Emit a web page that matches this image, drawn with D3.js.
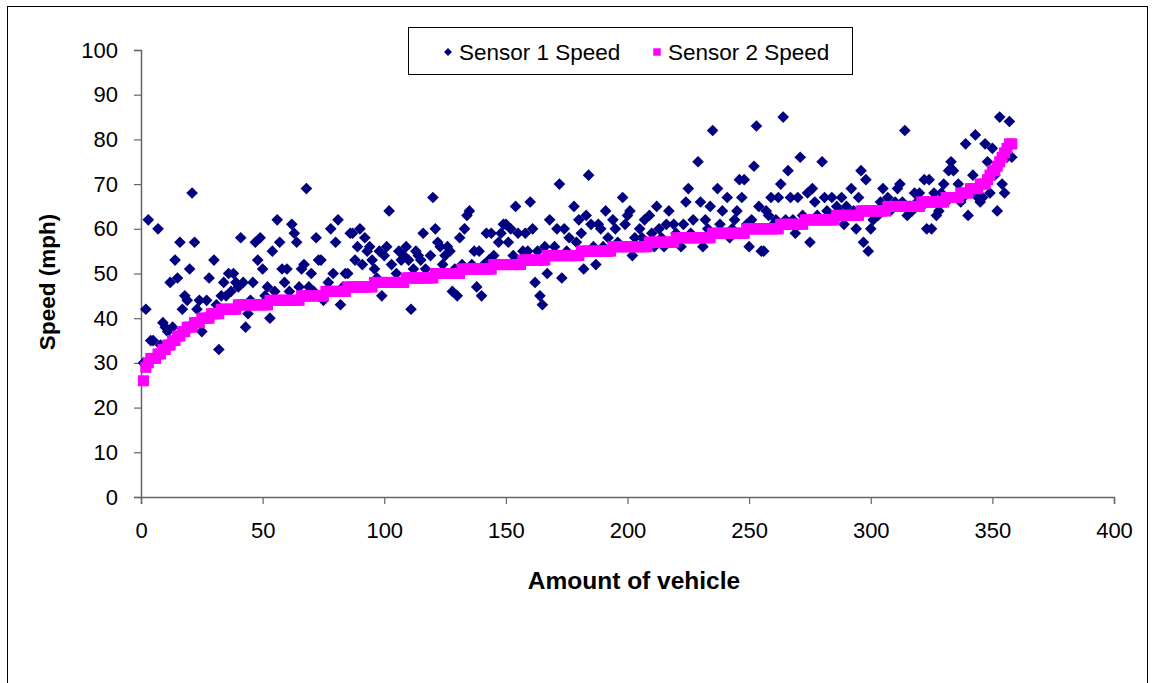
<!DOCTYPE html>
<html><head><meta charset="utf-8">
<script src="https://cdn.jsdelivr.net/npm/d3@7"></script>
<style>html,body{margin:0;padding:0;background:#fff;}svg{display:block;}</style>
</head><body>
<svg id="chart" width="1153" height="683"></svg>
<script>
// Sensor 1 speed for each vehicle (vehicles sorted by Sensor 2 speed)
const sensor1 = [
30,42,62,35,35,31,60,34,39,38,
37,48,38,53,49,57,42,45,44,51,
68,57,42,44,37,40,44,49,41,53,
43,33,45,48,45,50,46,50,48,47,
58,48,38,41,44,48,57,53,58,51,
45,47,40,55,46,62,57,51,48,51,
46,61,59,57,47,51,52,69,47,50,
46,58,53,53,44,46,48,60,50,57,
62,43,47,50,50,59,59,53,56,60,
52,58,55,56,53,51,49,55,45,54,
56,64,52,48,50,55,53,54,56,53,
42,51,55,54,53,59,51,49,54,67,
60,57,56,52,54,56,55,46,51,45,
58,52,60,63,64,52,55,47,55,45,
52,59,53,59,54,52,57,59,61,61,
57,60,54,65,59,53,55,59,55,66,
60,48,55,45,43,56,50,62,54,56,
60,70,49,60,55,58,54,65,57,62,
59,51,63,72,61,56,52,61,60,56,
64,58,55,62,60,57,56,67,61,63,
64,54,58,56,60,58,62,57,63,59,
56,65,60,58,56,61,64,57,61,59,
58,56,61,66,69,59,62,58,75,66,
56,62,60,65,82,59,69,61,64,59,
67,58,60,62,64,71,67,71,61,56,
62,74,83,65,55,55,64,63,67,61,
62,67,70,85,62,73,67,62,59,67,
76,63,62,68,57,69,66,63,62,75,
67,64,62,67,63,65,64,67,61,65,
63,69,64,60,67,73,57,71,55,60,
62,64,63,66,69,64,67,64,65,66,
69,70,66,82,63,65,64,68,66,68,
65,71,60,71,60,68,63,64,68,70,
66,73,75,73,67,70,66,67,79,63,
68,72,81,67,66,67,79,75,68,78,
72,64,85,70,68,76,84,76
];
// Sensor 2 speed for each vehicle (sorted ascending)
const sensor2 = [
26,29,30,31,31,31,32,32,33,33,
34,34,35,35,36,36,37,37,38,38,
38,39,39,39,40,40,40,40,41,41,
41,41,42,42,42,42,42,42,42,43,
43,43,43,43,43,43,43,43,43,43,
43,43,44,44,44,44,44,44,44,44,
44,44,44,44,44,45,45,45,45,45,
45,45,45,45,45,46,46,46,46,46,
46,46,46,46,47,47,47,47,47,47,
47,47,47,47,47,48,48,48,48,48,
48,48,48,48,48,48,48,48,49,49,
49,49,49,49,49,49,49,49,49,49,
50,50,50,50,50,50,50,50,50,50,
50,51,51,51,51,51,51,51,51,51,
51,51,51,51,52,52,52,52,52,52,
52,52,52,52,52,52,53,53,53,53,
53,53,53,53,53,53,54,54,54,54,
54,54,54,54,54,54,54,54,54,54,
55,55,55,55,55,55,55,55,55,55,
55,55,55,56,56,56,56,56,56,56,
56,56,56,56,56,56,56,56,57,57,
57,57,57,57,57,57,57,57,57,58,
58,58,58,58,58,58,58,58,58,58,
58,58,58,58,59,59,59,59,59,59,
59,59,59,59,59,59,59,59,60,60,
60,60,60,60,60,60,60,60,60,60,
60,60,61,61,61,61,61,61,61,61,
61,61,62,62,62,62,62,62,62,62,
62,62,62,62,62,63,63,63,63,63,
63,63,63,63,63,64,64,64,64,64,
64,64,64,64,64,64,65,65,65,65,
65,65,65,65,65,65,65,65,65,65,
66,66,66,66,66,66,66,66,66,66,
67,67,67,67,67,67,68,68,68,68,
69,69,69,69,70,70,70,71,72,73,
73,74,75,76,77,78,79,79
];
const vehicles = sensor2.map((d, i) => i + 1);
const xTicks = [0, 50, 100, 150, 200, 250, 300, 350, 400];
const yTicks = [0, 10, 20, 30, 40, 50, 60, 70, 80, 90, 100];
const seriesNames = ["Sensor 1 Speed", "Sensor 2 Speed"];
const xTitle = "Amount of vehicle";
const yTitle = "Speed (mph)";

const svg = d3.select("#chart");
const FONT = "Liberation Sans, Arial, sans-serif";
const navy = "#000080", magenta = "#ff00ff", axisCol = "#666";

// chart border
svg.append("rect").attr("x", 7.5).attr("y", 6.5).attr("width", 1140).attr("height", 700)
  .attr("fill", "#fff").attr("stroke", "#000").attr("stroke-width", 1);

const plot = {left: 141, right: 1114, top: 50, bottom: 497};
const x = d3.scaleLinear().domain([0, 400]).range([plot.left, plot.right]);
const y = d3.scaleLinear().domain([0, 100]).range([plot.bottom, plot.top]);

// axes
const yAxis = svg.append("g").attr("transform", `translate(${plot.left},0)`)
  .call(d3.axisLeft(y).tickValues(yTicks).tickSize(7).tickPadding(16));
const xAxis = svg.append("g").attr("transform", `translate(0,${plot.bottom})`)
  .call(d3.axisBottom(x).tickValues(xTicks).tickSize(7).tickPadding(18));
[xAxis, yAxis].forEach(g => {
  g.select(".domain").attr("stroke", axisCol).attr("stroke-width", 1.5);
  g.selectAll(".tick line").attr("stroke", axisCol).attr("stroke-width", 1.2);
  g.selectAll(".tick text").attr("fill", "#000").style("font-family", FONT).style("font-size", "22px");
});

// series 1: diamonds
const diamond = d3.symbol().type(d3.symbolSquare).size(68);
svg.append("g").selectAll("path").data(vehicles).join("path")
  .attr("d", diamond)
  .attr("transform", (d, i) => `translate(${x(d)},${y(sensor1[i])}) rotate(45)`)
  .attr("fill", navy);

// series 2: squares
const square = d3.symbol().type(d3.symbolSquare).size(121);
svg.append("g").selectAll("path").data(vehicles).join("path")
  .attr("d", square)
  .attr("transform", (d, i) => `translate(${x(d)},${y(sensor2[i])})`)
  .attr("fill", magenta);

// axis titles
svg.append("text").attr("x", 634).attr("y", 589).attr("text-anchor", "middle")
  .style("font-family", FONT).style("font-size", "24.5px").style("font-weight", "bold").text(xTitle);
svg.append("text").attr("transform", "translate(55,282) rotate(-90)").attr("text-anchor", "middle")
  .style("font-family", FONT).style("font-size", "22.5px").style("font-weight", "bold").text(yTitle);

// legend
const lg = svg.append("g");
lg.append("rect").attr("x", 408.5).attr("y", 27.5).attr("width", 444).attr("height", 47)
  .attr("fill", "#fff").attr("stroke", "#000").attr("stroke-width", 1);
lg.append("path").attr("d", d3.symbol().type(d3.symbolSquare).size(32)())
  .attr("transform", "translate(448,52) rotate(45)").attr("fill", navy);
lg.append("text").attr("x", 459).attr("y", 60).style("font-family", FONT).style("font-size", "22.5px").text(seriesNames[0]);
lg.append("path").attr("d", d3.symbol().type(d3.symbolSquare).size(56)())
  .attr("transform", "translate(657,52)").attr("fill", magenta);
lg.append("text").attr("x", 668).attr("y", 60).style("font-family", FONT).style("font-size", "22.5px").text(seriesNames[1]);
</script>
</body></html>
